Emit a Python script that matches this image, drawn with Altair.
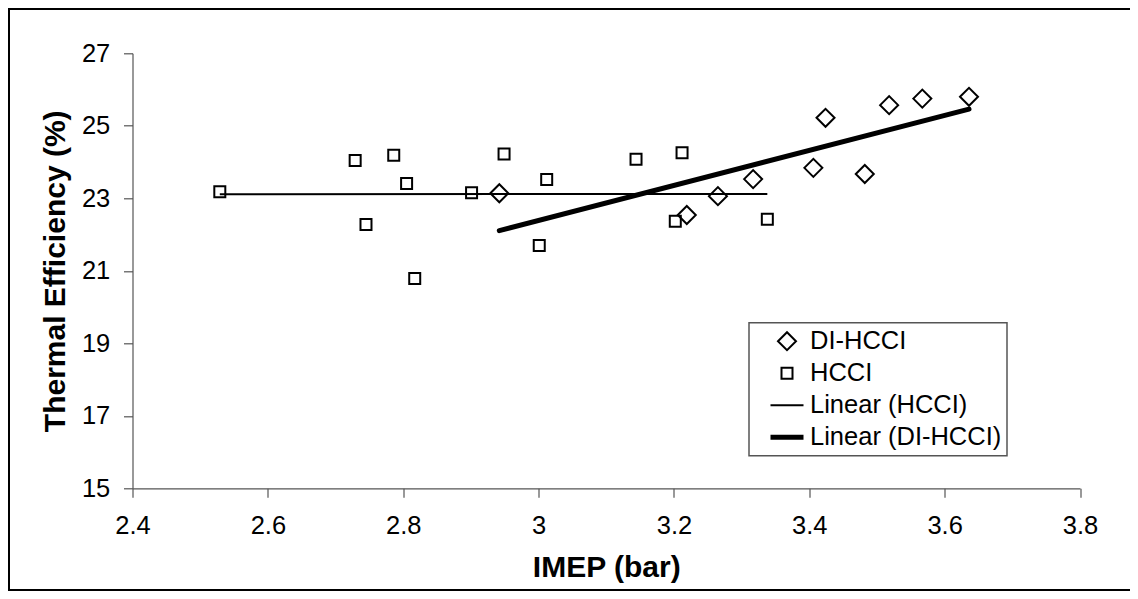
import altair as alt
import pandas as pd

# ---- data ----
hcci_imep = [2.529, 2.729, 2.745, 2.786, 2.805, 2.817, 2.901, 2.949, 3.001, 3.012, 3.144, 3.202, 3.212, 3.338]
hcci_eff = [23.18, 24.04, 22.28, 24.19, 23.41, 20.79, 23.15, 24.22, 21.70, 23.52, 24.08, 22.37, 24.26, 22.42]

di_imep = [2.942, 3.219, 3.265, 3.317, 3.406, 3.424, 3.482, 3.518, 3.567, 3.636]
di_eff = [23.14, 22.54, 23.06, 23.53, 23.84, 25.22, 23.67, 25.57, 25.75, 25.80]

legend_labels = ["DI-HCCI", "HCCI", "Linear (HCCI)", "Linear (DI-HCCI)"]
x_ticks = [2.4, 2.6, 2.8, 3.0, 3.2, 3.4, 3.6, 3.8]
y_ticks = [15, 17, 19, 21, 23, 25, 27]

# symbol paths (unit box scaled by sqrt(size)/2)
shape_paths = [
    "M-0.72,0L0,-0.72L0.72,0L0,0.72Z",
    "M-0.44,-0.44L0.44,-0.44L0.44,0.44L-0.44,0.44Z",
    "M-1.32,0L1.32,0",
    "M-1.32,-0.12L1.32,-0.12M-1.32,-0.04L1.32,-0.04M-1.32,0.04L1.32,0.04M-1.32,0.12L1.32,0.12",
]

df = pd.DataFrame({
    "imep": hcci_imep + di_imep,
    "eff": hcci_eff + di_eff,
    "series": ["HCCI"] * len(hcci_imep) + ["DI-HCCI"] * len(di_imep),
})

FONT = "Liberation Sans"

x_enc = alt.X(
    "imep:Q",
    scale=alt.Scale(domain=[2.4, 3.8], nice=False, zero=False),
    axis=alt.Axis(values=x_ticks, format="~g", title="IMEP (bar)",
                  labelPadding=16, titlePadding=14, labelFlush=False),
)
y_enc = alt.Y(
    "eff:Q",
    scale=alt.Scale(domain=[15, 27], nice=False, zero=False),
    axis=alt.Axis(values=y_ticks, title="Thermal Efficiency (%)",
                  labelPadding=13.7, titlePadding=11, labelFlush=False),
)

points = alt.Chart(df).mark_point(
    filled=False, color="black", strokeWidth=2, size=625, opacity=1
).encode(
    x=x_enc,
    y=y_enc,
    shape=alt.Shape(
        "series:N",
        scale=alt.Scale(domain=legend_labels, range=shape_paths),
        legend=alt.Legend(
            title=None, orient="none", legendX=616.5, legendY=269.4,
            padding=5, rowPadding=5, symbolOffset=19.5, labelOffset=9.5,
            labelFont=FONT, labelFontSize=25.5, labelColor="black", labelLimit=400,
            symbolSize=625, symbolStrokeWidth=2, symbolStrokeColor="black",
            symbolFillColor="transparent", strokeColor="#555", fillColor="white",
            labelExpr="datum.label == 'Linear (DI-HCCI)' ? datum.label + '  ' : datum.label",
        ),
    ),
)

trend_hcci = alt.Chart(df).transform_filter(
    alt.datum.series == "HCCI"
).transform_regression("imep", "eff").mark_line(
    color="black", strokeWidth=2
).encode(x="imep:Q", y="eff:Q")

trend_di = alt.Chart(df).transform_filter(
    alt.datum.series == "DI-HCCI"
).transform_regression("imep", "eff").mark_line(
    color="black", strokeWidth=5, strokeCap="round"
).encode(x="imep:Q", y="eff:Q")

one = pd.DataFrame({"k": [0]})
frame_top = alt.Chart(one).mark_rule(color="black", strokeWidth=2).encode(
    x=alt.value(-124.5), x2=alt.value(1010), y=alt.value(-44.3))
frame_left = alt.Chart(one).mark_rule(color="black", strokeWidth=2).encode(
    x=alt.value(-123.5), y=alt.value(-45.3), y2=alt.value(537.7))
frame_bottom = alt.Chart(one).mark_rule(color="black", strokeWidth=2).encode(
    x=alt.value(-124.5), x2=alt.value(1010), y=alt.value(536.7))

chart = alt.layer(
    frame_top, frame_left, frame_bottom, points, trend_hcci, trend_di
).properties(
    width=947.5, height=435,
    autosize=alt.AutoSizeParams(type="none"),
    padding={"left": 124.5, "top": 45.3, "right": 50, "bottom": 102.7},
    background="white",
).configure_view(
    stroke="transparent"
).configure_axis(
    grid=False, domainColor="#555", domainWidth=1.2, tickColor="#555", tickWidth=1.2,
    tickSize=9, labelFont=FONT, labelFontSize=25.5, labelColor="black",
    titleFont=FONT, titleFontSize=30, titleFontWeight="bold", titleColor="black",
    labelOverlap=False,
).configure_legend(
    strokeWidth=1.5
)

chart.save("out.html", embed_options={"renderer": "svg", "actions": False})
